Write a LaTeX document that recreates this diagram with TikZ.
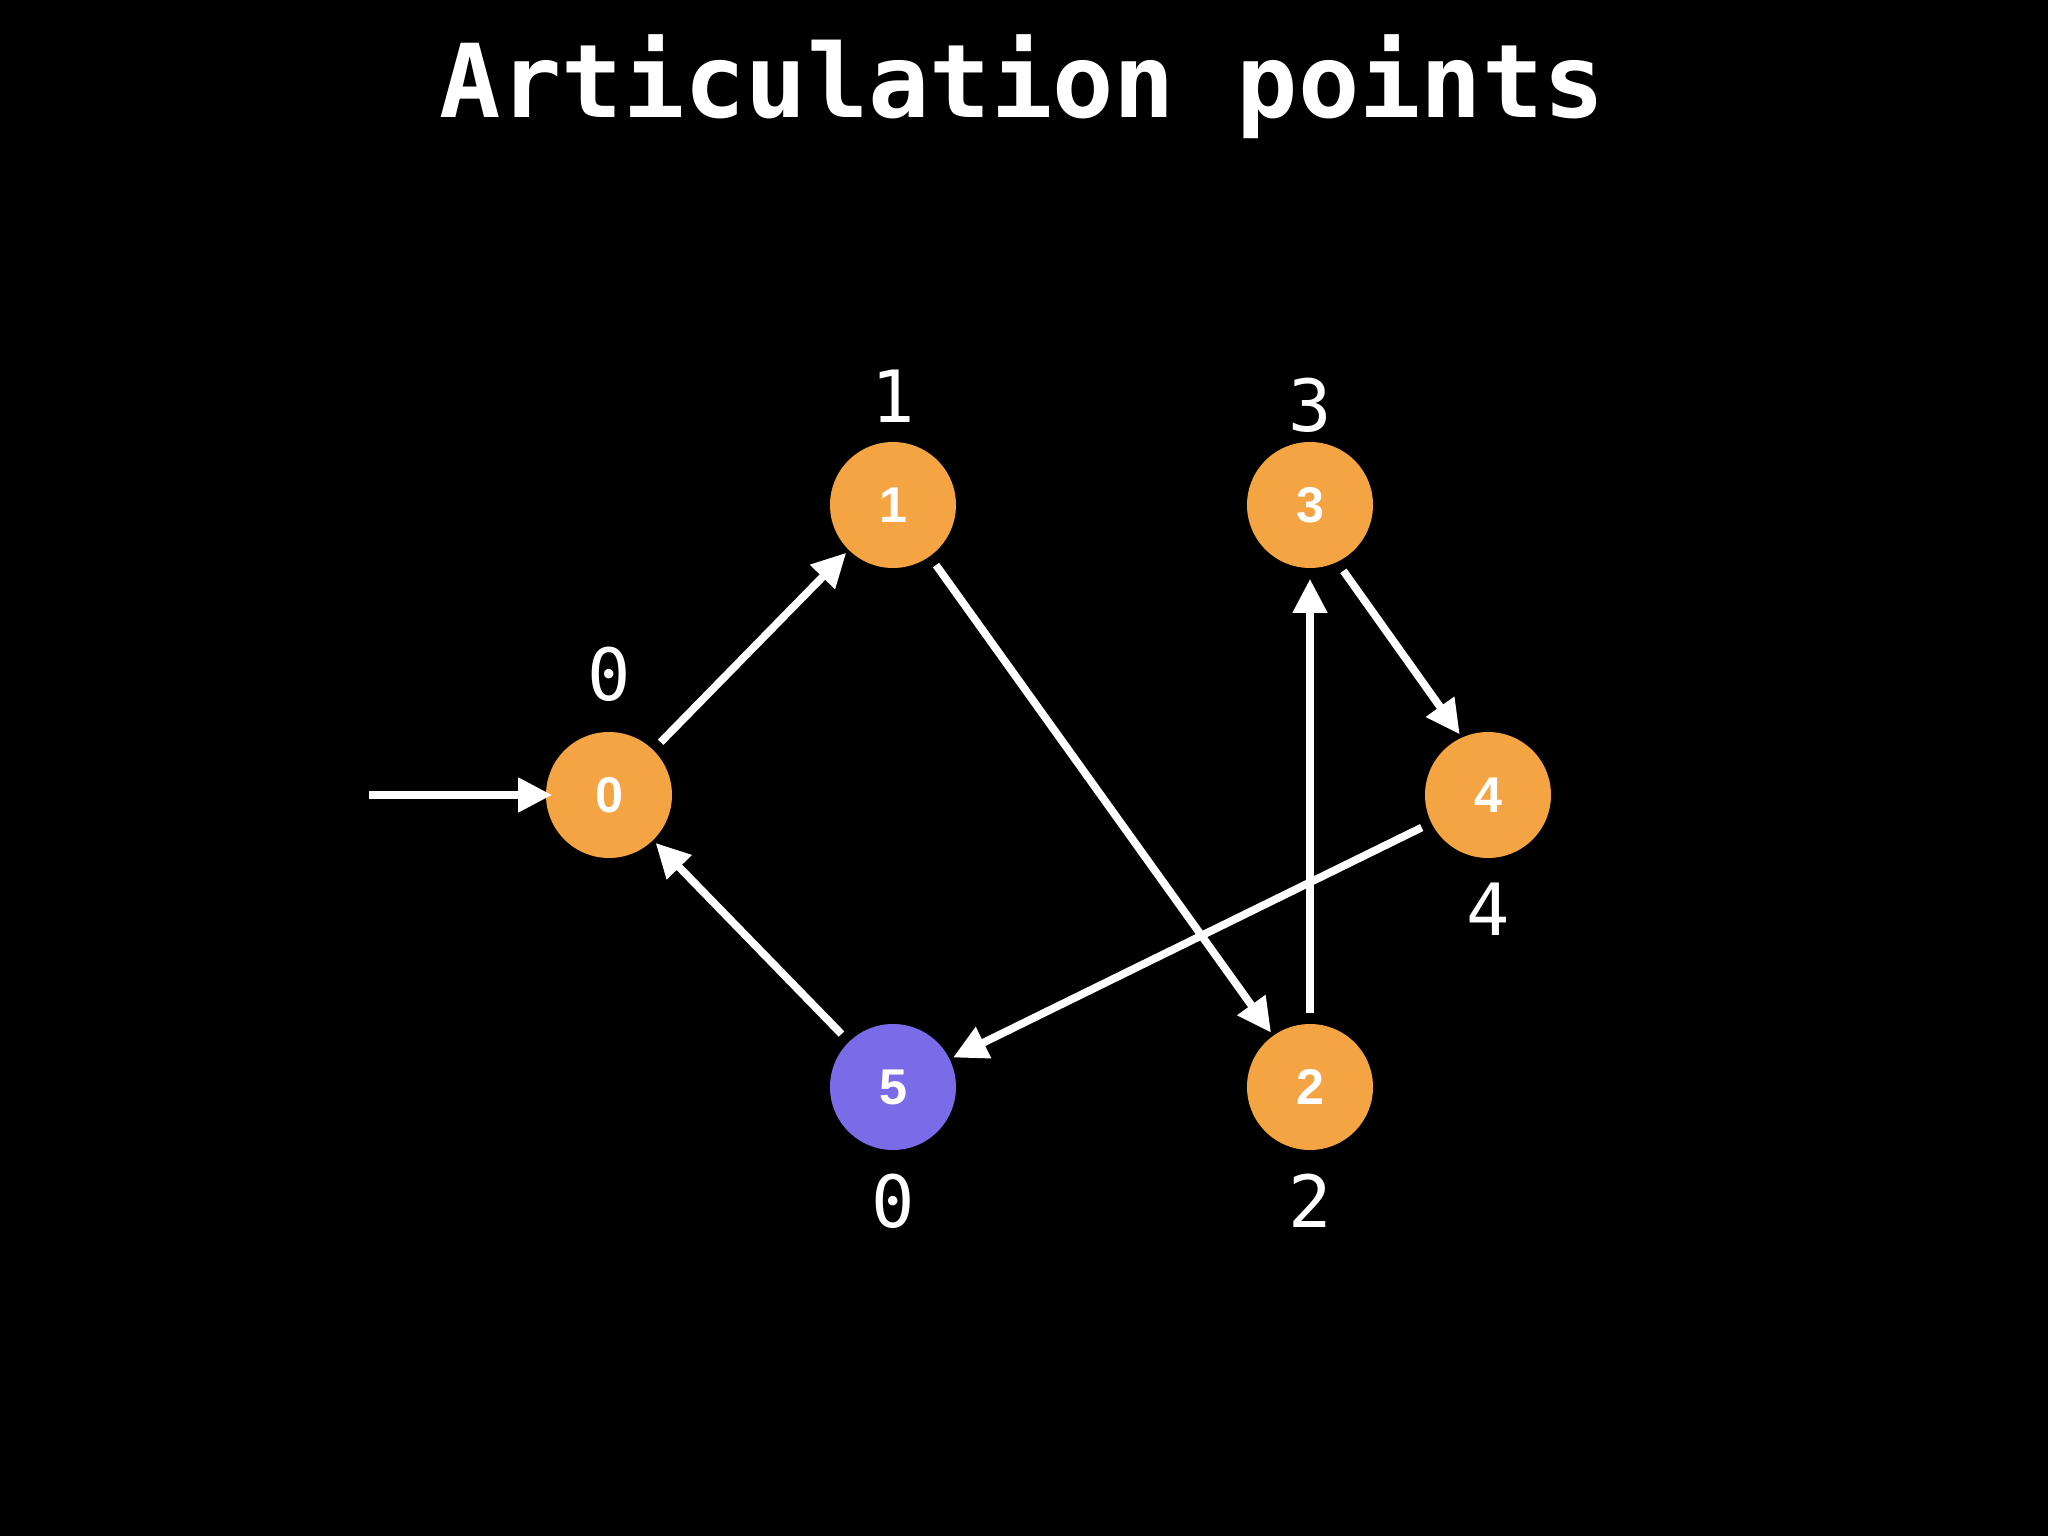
\documentclass[tikz,border=0pt]{standalone}
\usepackage{fontspec}
\usetikzlibrary{arrows.meta}
\newfontfamily\monofont{DejaVu Sans Mono}
\newfontfamily\vertexfont{Liberation Sans}
\definecolor{vorange}{HTML}{F5A443}
\definecolor{vpurple}{HTML}{7A6CE8}

\begin{document}
\begin{tikzpicture}[yscale=-1,line width=2.2pt,>={Triangle[length=0.34cm,width=0.33cm]}]
	\tikzstyle{vert}=[circle,inner sep=0pt,minimum size=1.26cm,fill=vorange,text=white,font=\vertexfont\bfseries\fontsize{14.3}{16}\selectfont];
	\tikzstyle{low}=[anchor=base,text=white,font=\monofont\fontsize{20.5}{24}\selectfont];
	\tikzstyle{edge}=[white,->,shorten <=2pt];

	\fill[black] (0,0) rectangle (20.48,15.36);
	\useasboundingbox (0,0) rectangle (20.48,15.36);

	\node[anchor=base,text=white,font=\monofont\bfseries\fontsize{29}{34}\selectfont] (title) at (10.22,1.18) {Articulation points};

	\node[vert] (v0) at (6.09,7.95)   {0};
	\node[vert] (v1) at (8.93,5.05)   {1};
	\node[vert] (v3) at (13.10,5.05)  {3};
	\node[vert] (v4) at (14.88,7.95)  {4};
	\node[vert,fill=vpurple] (v5) at (8.93,10.87) {5};
	\node[vert] (v2) at (13.10,10.87) {2};

	\node[low] (lab0) at (6.09,7.01)   {0};
	\node[low] (lab1) at (8.93,4.22)   {1};
	\node[low] (lab3) at (13.10,4.32)  {3};
	\node[low] (lab4) at (14.88,9.35)  {4};
	\node[low] (lab5) at (8.93,12.27)  {0};
	\node[low] (lab2) at (13.10,12.27) {2};

	\coordinate (entry) at (3.69,7.95);
	\draw[white,->,shorten >=-0.1cm] (entry) -- (v0);
	\draw[edge] (v0) -- (v1);
	\draw[edge] (v1) -- (v2);
	\draw[edge,shorten >=0.07cm] (v2) -- (v3);
	\draw[edge] (v3.-64) -- (v4.115);
	\draw[edge] (v4) -- (v5);
	\draw[edge] (v5) -- (v0);
\end{tikzpicture}
\end{document}
